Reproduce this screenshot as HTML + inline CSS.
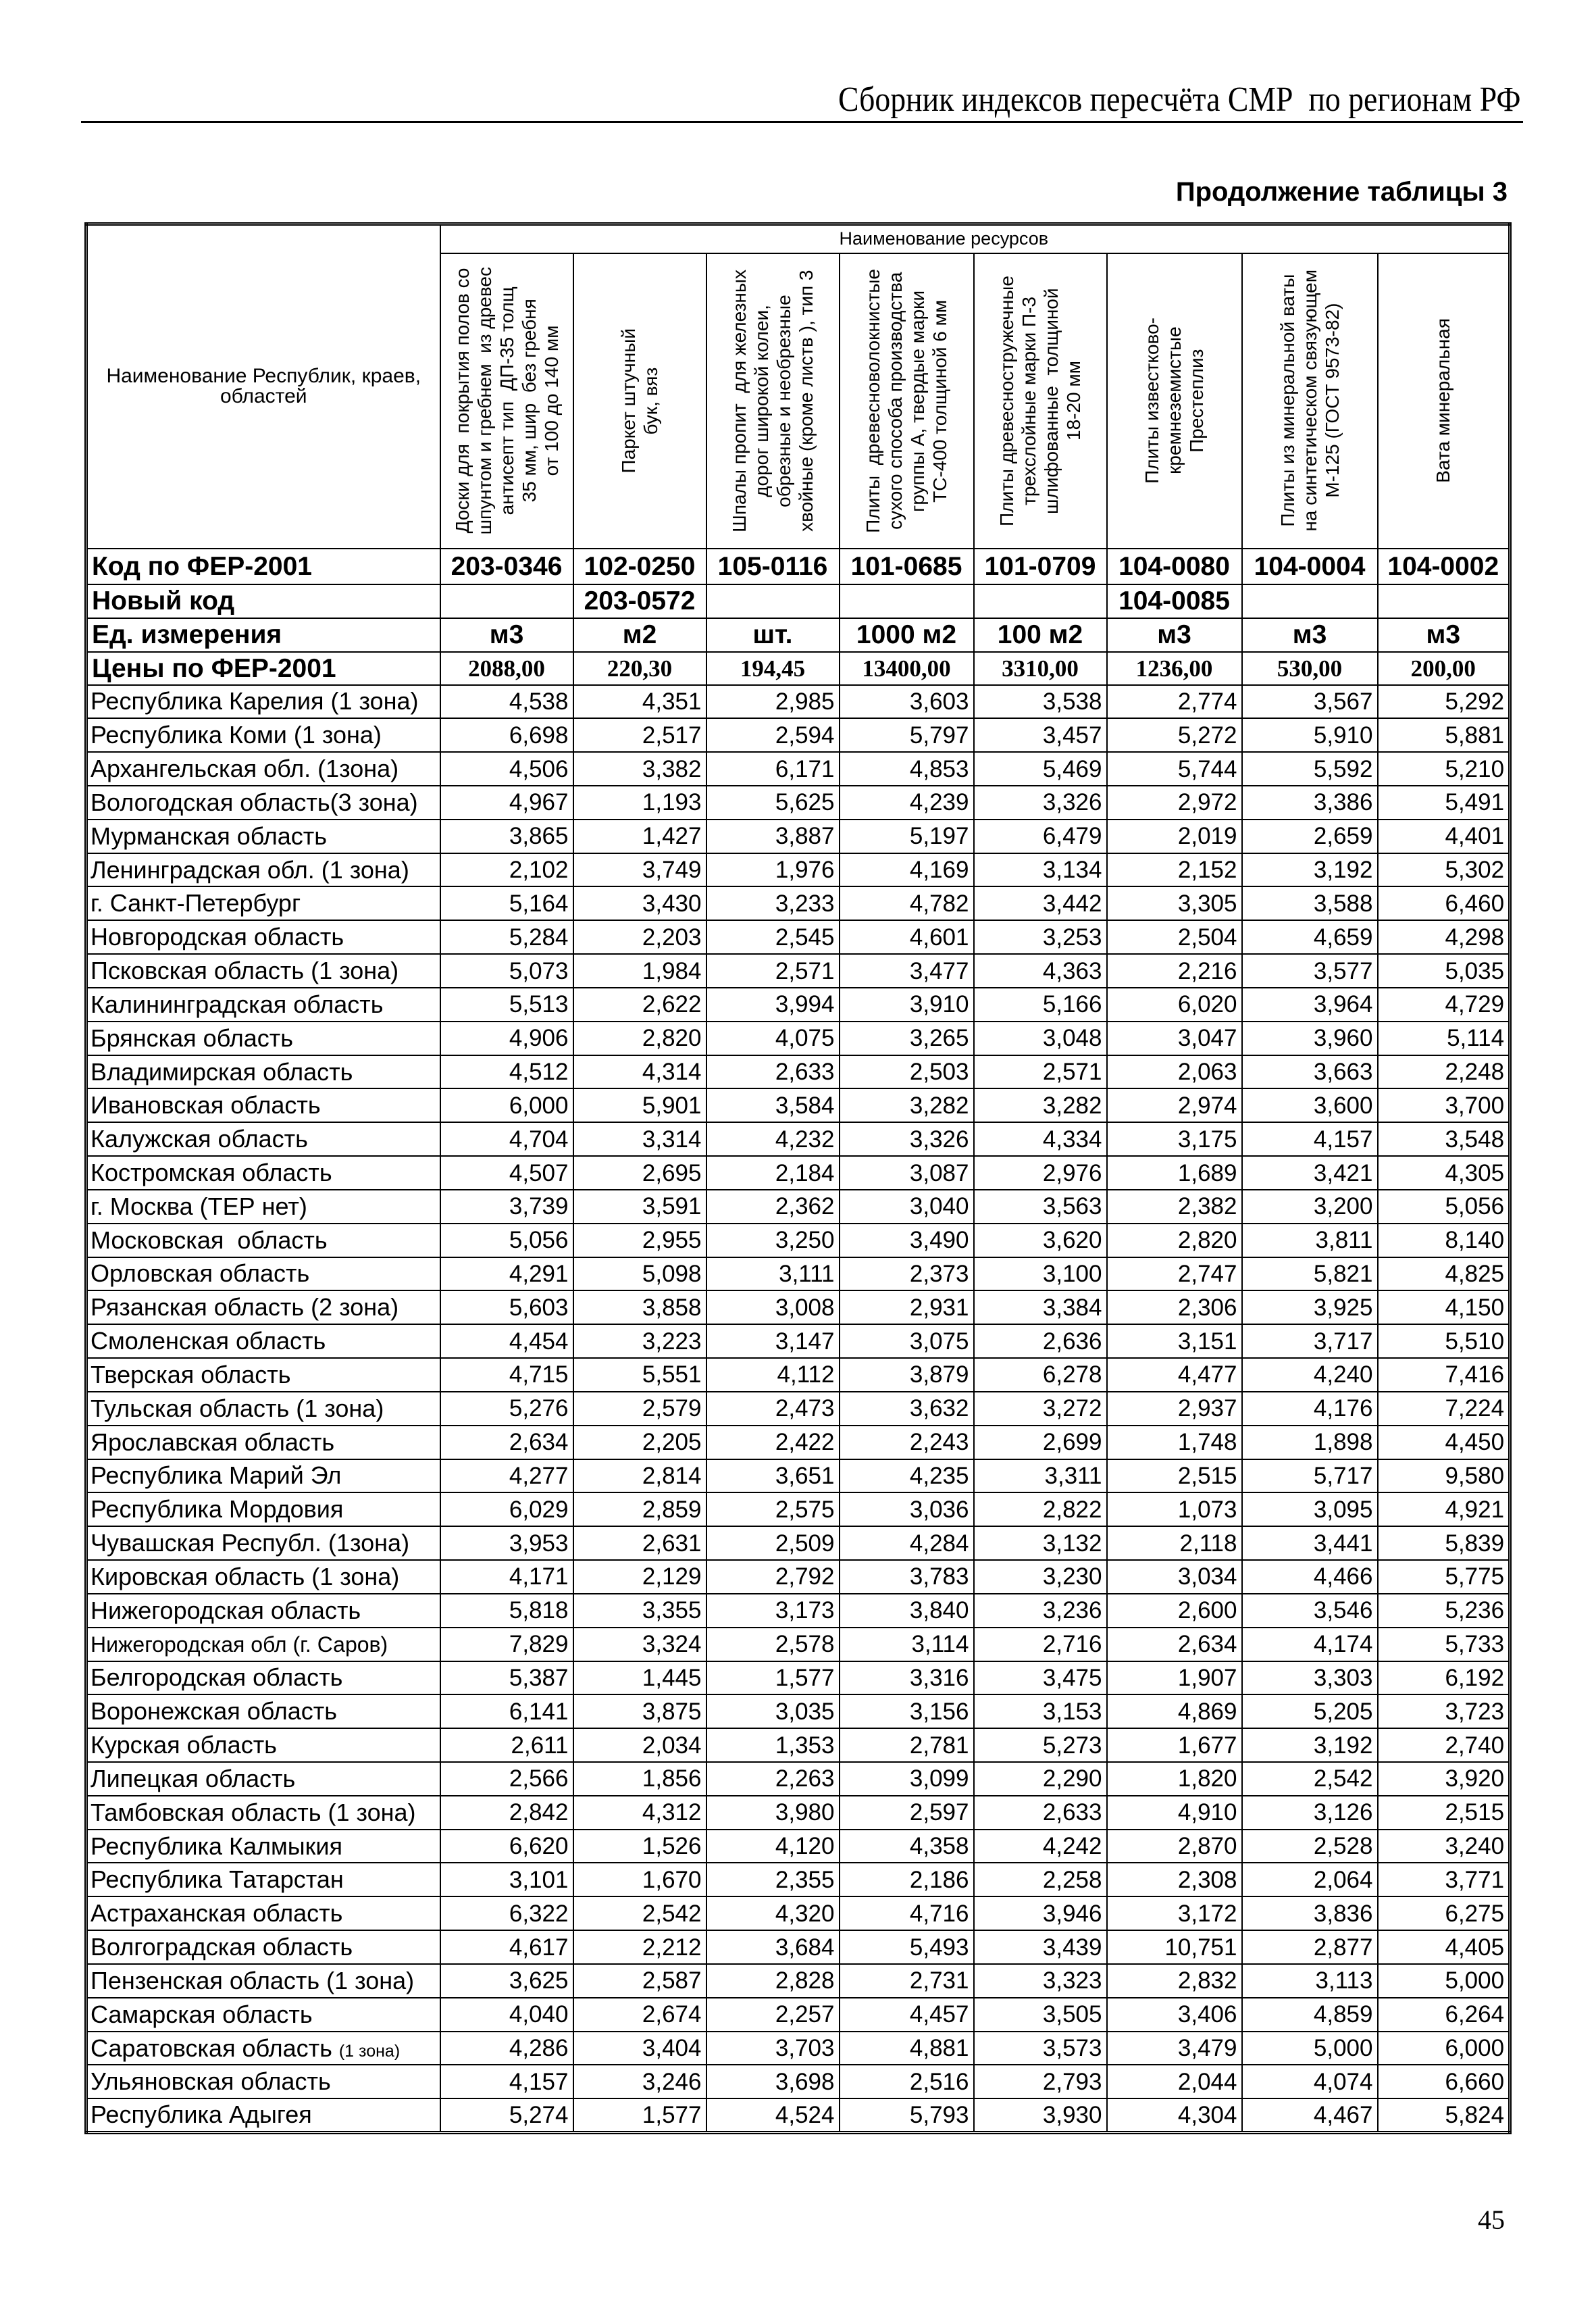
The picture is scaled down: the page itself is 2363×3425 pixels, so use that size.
<!DOCTYPE html>
<html><head><meta charset="utf-8">
<style>
html,body{margin:0;padding:0;background:#fff;}
body{width:2363px;height:3425px;position:relative;overflow:hidden;font-family:"Liberation Sans",sans-serif;color:#000;}
.title{position:absolute;left:1241px;top:118px;width:990px;font-family:"Liberation Serif",serif;font-size:52px;white-space:nowrap;line-height:60px;}
.title span{display:inline-block;transform-origin:left center;transform:scaleX(0.88);}
.rule{position:absolute;left:120px;top:179px;width:2135px;height:3px;background:#000;}
.sub{position:absolute;left:0;top:262px;width:2232px;height:50px;font-weight:bold;font-size:40px;white-space:nowrap;}
.sub span{position:absolute;right:0;top:0;}
table{position:absolute;left:125px;top:329px;width:2110px;border-collapse:collapse;table-layout:fixed;border:5px double #000;}
td{border:2px solid #000;padding:0 6px;white-space:nowrap;overflow:hidden;font-size:35px;line-height:1;}
td.n{text-align:right;}
tr.d{height:49.84px;}
tr.b td{font-family:"Liberation Sans Narrow","Liberation Sans",sans-serif;font-weight:bold;font-size:39px;text-align:center;}
tr.b td:first-child{text-align:left;}
tr.p td{font-family:"Liberation Serif",serif;font-weight:bold;font-size:35px;text-align:center;}
tr.p td:first-child{font-family:"Liberation Sans Narrow","Liberation Sans",sans-serif;font-size:39px;text-align:left;}
.hd{font-family:"Liberation Sans Narrow","Liberation Sans",sans-serif;font-size:30px;text-align:center;}
.rot{padding:0;text-align:center;vertical-align:middle;}
.rot div{writing-mode:vertical-rl;transform:rotate(180deg);font-size:28px;line-height:33px;margin:0 auto;white-space:nowrap;text-align:center;}
td.r{font-size:36px;padding-left:4px;}
.sm{font-size:25px;}
</style></head><body>
<div class="title"><span>Сборник индексов пересчёта СМР&nbsp; по регионам РФ</span></div>
<div class="rule"></div>
<div class="sub"><span>Продолжение таблицы 3</span></div>
<table>
<colgroup><col style="width:524px"><col style="width:197px"><col style="width:197px"><col style="width:197px"><col style="width:199px"><col style="width:197px"><col style="width:200px"><col style="width:201px"><col style="width:196px"></colgroup>
<tr style="height:43px"><td rowspan="2" class="hd" style="white-space:normal;padding:0 10px;">Наименование Республик, краев,<br>областей</td><td colspan="8" class="hd" style="text-align:left;padding-left:590px;font-size:27px;">Наименование ресурсов</td></tr>
<tr style="height:437px">
<td class="rot"><div>Доски для &nbsp;покрытия полов со<br>шпунтом и гребнем &nbsp;из древес<br>антисепт тип &nbsp;ДП-35 толщ<br>35 мм, шир &nbsp;без гребня<br>от 100 до 140 мм</div></td>
<td class="rot"><div>Паркет штучный<br>бук, вяз</div></td>
<td class="rot"><div>Шпалы пропит &nbsp;для железных<br>дорог широкой колеи,<br>обрезные и необрезные<br>хвойные (кроме листв ), тип 3</div></td>
<td class="rot"><div>Плиты &nbsp;древесноволокнистые<br>сухого способа производства<br>группы А, твердые марки<br>ТС-400 толщиной 6 мм</div></td>
<td class="rot"><div>Плиты древесностружечные<br>трехслойные марки П-3<br>шлифованные &nbsp;толщиной<br>18-20 мм</div></td>
<td class="rot"><div>Плиты известково-<br>кремнеземистые<br>Престеплиз</div></td>
<td class="rot"><div>Плиты из минеральной ваты<br>на синтетическом связующем<br>М-125 (ГОСТ 9573-82)</div></td>
<td class="rot"><div>Вата минеральная</div></td>
</tr>
<tr class="b" style="height:53px"><td>Код по ФЕР-2001</td><td>203-0346</td><td>102-0250</td><td>105-0116</td><td>101-0685</td><td>101-0709</td><td>104-0080</td><td>104-0004</td><td>104-0002</td></tr>
<tr class="b" style="height:50px"><td>Новый код</td><td></td><td>203-0572</td><td></td><td></td><td></td><td>104-0085</td><td></td><td></td></tr>
<tr class="b" style="height:50px"><td>Ед. измерения</td><td>м3</td><td>м2</td><td>шт.</td><td>1000 м2</td><td>100 м2</td><td>м3</td><td>м3</td><td>м3</td></tr>
<tr class="p" style="height:49px"><td>Цены по ФЕР-2001</td><td>2088,00</td><td>220,30</td><td>194,45</td><td>13400,00</td><td>3310,00</td><td>1236,00</td><td>530,00</td><td>200,00</td></tr>
<tr class="d"><td class="r">Республика Карелия (1 зона)</td><td class="n">4,538</td><td class="n">4,351</td><td class="n">2,985</td><td class="n">3,603</td><td class="n">3,538</td><td class="n">2,774</td><td class="n">3,567</td><td class="n">5,292</td></tr>
<tr class="d"><td class="r">Республика Коми (1 зона)</td><td class="n">6,698</td><td class="n">2,517</td><td class="n">2,594</td><td class="n">5,797</td><td class="n">3,457</td><td class="n">5,272</td><td class="n">5,910</td><td class="n">5,881</td></tr>
<tr class="d"><td class="r">Архангельская обл. (1зона)</td><td class="n">4,506</td><td class="n">3,382</td><td class="n">6,171</td><td class="n">4,853</td><td class="n">5,469</td><td class="n">5,744</td><td class="n">5,592</td><td class="n">5,210</td></tr>
<tr class="d"><td class="r">Вологодская область(3 зона)</td><td class="n">4,967</td><td class="n">1,193</td><td class="n">5,625</td><td class="n">4,239</td><td class="n">3,326</td><td class="n">2,972</td><td class="n">3,386</td><td class="n">5,491</td></tr>
<tr class="d"><td class="r">Мурманская область</td><td class="n">3,865</td><td class="n">1,427</td><td class="n">3,887</td><td class="n">5,197</td><td class="n">6,479</td><td class="n">2,019</td><td class="n">2,659</td><td class="n">4,401</td></tr>
<tr class="d"><td class="r">Ленинградская обл. (1 зона)</td><td class="n">2,102</td><td class="n">3,749</td><td class="n">1,976</td><td class="n">4,169</td><td class="n">3,134</td><td class="n">2,152</td><td class="n">3,192</td><td class="n">5,302</td></tr>
<tr class="d"><td class="r">г. Санкт-Петербург</td><td class="n">5,164</td><td class="n">3,430</td><td class="n">3,233</td><td class="n">4,782</td><td class="n">3,442</td><td class="n">3,305</td><td class="n">3,588</td><td class="n">6,460</td></tr>
<tr class="d"><td class="r">Новгородская область</td><td class="n">5,284</td><td class="n">2,203</td><td class="n">2,545</td><td class="n">4,601</td><td class="n">3,253</td><td class="n">2,504</td><td class="n">4,659</td><td class="n">4,298</td></tr>
<tr class="d"><td class="r">Псковская область (1 зона)</td><td class="n">5,073</td><td class="n">1,984</td><td class="n">2,571</td><td class="n">3,477</td><td class="n">4,363</td><td class="n">2,216</td><td class="n">3,577</td><td class="n">5,035</td></tr>
<tr class="d"><td class="r">Калининградская область</td><td class="n">5,513</td><td class="n">2,622</td><td class="n">3,994</td><td class="n">3,910</td><td class="n">5,166</td><td class="n">6,020</td><td class="n">3,964</td><td class="n">4,729</td></tr>
<tr class="d"><td class="r">Брянская область</td><td class="n">4,906</td><td class="n">2,820</td><td class="n">4,075</td><td class="n">3,265</td><td class="n">3,048</td><td class="n">3,047</td><td class="n">3,960</td><td class="n">5,114</td></tr>
<tr class="d"><td class="r">Владимирская область</td><td class="n">4,512</td><td class="n">4,314</td><td class="n">2,633</td><td class="n">2,503</td><td class="n">2,571</td><td class="n">2,063</td><td class="n">3,663</td><td class="n">2,248</td></tr>
<tr class="d"><td class="r">Ивановская область</td><td class="n">6,000</td><td class="n">5,901</td><td class="n">3,584</td><td class="n">3,282</td><td class="n">3,282</td><td class="n">2,974</td><td class="n">3,600</td><td class="n">3,700</td></tr>
<tr class="d"><td class="r">Калужская область</td><td class="n">4,704</td><td class="n">3,314</td><td class="n">4,232</td><td class="n">3,326</td><td class="n">4,334</td><td class="n">3,175</td><td class="n">4,157</td><td class="n">3,548</td></tr>
<tr class="d"><td class="r">Костромская область</td><td class="n">4,507</td><td class="n">2,695</td><td class="n">2,184</td><td class="n">3,087</td><td class="n">2,976</td><td class="n">1,689</td><td class="n">3,421</td><td class="n">4,305</td></tr>
<tr class="d"><td class="r">г. Москва (ТЕР нет)</td><td class="n">3,739</td><td class="n">3,591</td><td class="n">2,362</td><td class="n">3,040</td><td class="n">3,563</td><td class="n">2,382</td><td class="n">3,200</td><td class="n">5,056</td></tr>
<tr class="d"><td class="r">Московская &nbsp;область</td><td class="n">5,056</td><td class="n">2,955</td><td class="n">3,250</td><td class="n">3,490</td><td class="n">3,620</td><td class="n">2,820</td><td class="n">3,811</td><td class="n">8,140</td></tr>
<tr class="d"><td class="r">Орловская область</td><td class="n">4,291</td><td class="n">5,098</td><td class="n">3,111</td><td class="n">2,373</td><td class="n">3,100</td><td class="n">2,747</td><td class="n">5,821</td><td class="n">4,825</td></tr>
<tr class="d"><td class="r">Рязанская область (2 зона)</td><td class="n">5,603</td><td class="n">3,858</td><td class="n">3,008</td><td class="n">2,931</td><td class="n">3,384</td><td class="n">2,306</td><td class="n">3,925</td><td class="n">4,150</td></tr>
<tr class="d"><td class="r">Смоленская область</td><td class="n">4,454</td><td class="n">3,223</td><td class="n">3,147</td><td class="n">3,075</td><td class="n">2,636</td><td class="n">3,151</td><td class="n">3,717</td><td class="n">5,510</td></tr>
<tr class="d"><td class="r">Тверская область</td><td class="n">4,715</td><td class="n">5,551</td><td class="n">4,112</td><td class="n">3,879</td><td class="n">6,278</td><td class="n">4,477</td><td class="n">4,240</td><td class="n">7,416</td></tr>
<tr class="d"><td class="r">Тульская область (1 зона)</td><td class="n">5,276</td><td class="n">2,579</td><td class="n">2,473</td><td class="n">3,632</td><td class="n">3,272</td><td class="n">2,937</td><td class="n">4,176</td><td class="n">7,224</td></tr>
<tr class="d"><td class="r">Ярославская область</td><td class="n">2,634</td><td class="n">2,205</td><td class="n">2,422</td><td class="n">2,243</td><td class="n">2,699</td><td class="n">1,748</td><td class="n">1,898</td><td class="n">4,450</td></tr>
<tr class="d"><td class="r">Республика Марий Эл</td><td class="n">4,277</td><td class="n">2,814</td><td class="n">3,651</td><td class="n">4,235</td><td class="n">3,311</td><td class="n">2,515</td><td class="n">5,717</td><td class="n">9,580</td></tr>
<tr class="d"><td class="r">Республика Мордовия</td><td class="n">6,029</td><td class="n">2,859</td><td class="n">2,575</td><td class="n">3,036</td><td class="n">2,822</td><td class="n">1,073</td><td class="n">3,095</td><td class="n">4,921</td></tr>
<tr class="d"><td class="r">Чувашская Республ. (1зона)</td><td class="n">3,953</td><td class="n">2,631</td><td class="n">2,509</td><td class="n">4,284</td><td class="n">3,132</td><td class="n">2,118</td><td class="n">3,441</td><td class="n">5,839</td></tr>
<tr class="d"><td class="r">Кировская область (1 зона)</td><td class="n">4,171</td><td class="n">2,129</td><td class="n">2,792</td><td class="n">3,783</td><td class="n">3,230</td><td class="n">3,034</td><td class="n">4,466</td><td class="n">5,775</td></tr>
<tr class="d"><td class="r">Нижегородская область</td><td class="n">5,818</td><td class="n">3,355</td><td class="n">3,173</td><td class="n">3,840</td><td class="n">3,236</td><td class="n">2,600</td><td class="n">3,546</td><td class="n">5,236</td></tr>
<tr class="d"><td class="r" style="font-size:32px">Нижегородская обл (г. Саров)</td><td class="n">7,829</td><td class="n">3,324</td><td class="n">2,578</td><td class="n">3,114</td><td class="n">2,716</td><td class="n">2,634</td><td class="n">4,174</td><td class="n">5,733</td></tr>
<tr class="d"><td class="r">Белгородская область</td><td class="n">5,387</td><td class="n">1,445</td><td class="n">1,577</td><td class="n">3,316</td><td class="n">3,475</td><td class="n">1,907</td><td class="n">3,303</td><td class="n">6,192</td></tr>
<tr class="d"><td class="r">Воронежская область</td><td class="n">6,141</td><td class="n">3,875</td><td class="n">3,035</td><td class="n">3,156</td><td class="n">3,153</td><td class="n">4,869</td><td class="n">5,205</td><td class="n">3,723</td></tr>
<tr class="d"><td class="r">Курская область</td><td class="n">2,611</td><td class="n">2,034</td><td class="n">1,353</td><td class="n">2,781</td><td class="n">5,273</td><td class="n">1,677</td><td class="n">3,192</td><td class="n">2,740</td></tr>
<tr class="d"><td class="r">Липецкая область</td><td class="n">2,566</td><td class="n">1,856</td><td class="n">2,263</td><td class="n">3,099</td><td class="n">2,290</td><td class="n">1,820</td><td class="n">2,542</td><td class="n">3,920</td></tr>
<tr class="d"><td class="r">Тамбовская область (1 зона)</td><td class="n">2,842</td><td class="n">4,312</td><td class="n">3,980</td><td class="n">2,597</td><td class="n">2,633</td><td class="n">4,910</td><td class="n">3,126</td><td class="n">2,515</td></tr>
<tr class="d"><td class="r">Республика Калмыкия</td><td class="n">6,620</td><td class="n">1,526</td><td class="n">4,120</td><td class="n">4,358</td><td class="n">4,242</td><td class="n">2,870</td><td class="n">2,528</td><td class="n">3,240</td></tr>
<tr class="d"><td class="r">Республика Татарстан</td><td class="n">3,101</td><td class="n">1,670</td><td class="n">2,355</td><td class="n">2,186</td><td class="n">2,258</td><td class="n">2,308</td><td class="n">2,064</td><td class="n">3,771</td></tr>
<tr class="d"><td class="r">Астраханская область</td><td class="n">6,322</td><td class="n">2,542</td><td class="n">4,320</td><td class="n">4,716</td><td class="n">3,946</td><td class="n">3,172</td><td class="n">3,836</td><td class="n">6,275</td></tr>
<tr class="d"><td class="r">Волгоградская область</td><td class="n">4,617</td><td class="n">2,212</td><td class="n">3,684</td><td class="n">5,493</td><td class="n">3,439</td><td class="n">10,751</td><td class="n">2,877</td><td class="n">4,405</td></tr>
<tr class="d"><td class="r">Пензенская область (1 зона)</td><td class="n">3,625</td><td class="n">2,587</td><td class="n">2,828</td><td class="n">2,731</td><td class="n">3,323</td><td class="n">2,832</td><td class="n">3,113</td><td class="n">5,000</td></tr>
<tr class="d"><td class="r">Самарская область</td><td class="n">4,040</td><td class="n">2,674</td><td class="n">2,257</td><td class="n">4,457</td><td class="n">3,505</td><td class="n">3,406</td><td class="n">4,859</td><td class="n">6,264</td></tr>
<tr class="d"><td class="r">Саратовская область <span class="sm">(1 зона)</span></td><td class="n">4,286</td><td class="n">3,404</td><td class="n">3,703</td><td class="n">4,881</td><td class="n">3,573</td><td class="n">3,479</td><td class="n">5,000</td><td class="n">6,000</td></tr>
<tr class="d"><td class="r">Ульяновская область</td><td class="n">4,157</td><td class="n">3,246</td><td class="n">3,698</td><td class="n">2,516</td><td class="n">2,793</td><td class="n">2,044</td><td class="n">4,074</td><td class="n">6,660</td></tr>
<tr class="d"><td class="r">Республика Адыгея</td><td class="n">5,274</td><td class="n">1,577</td><td class="n">4,524</td><td class="n">5,793</td><td class="n">3,930</td><td class="n">4,304</td><td class="n">4,467</td><td class="n">5,824</td></tr>
</table>
<div style="position:absolute;left:2188px;top:3262px;font-family:'Liberation Serif',serif;font-size:40px;">45</div>
</body></html>
